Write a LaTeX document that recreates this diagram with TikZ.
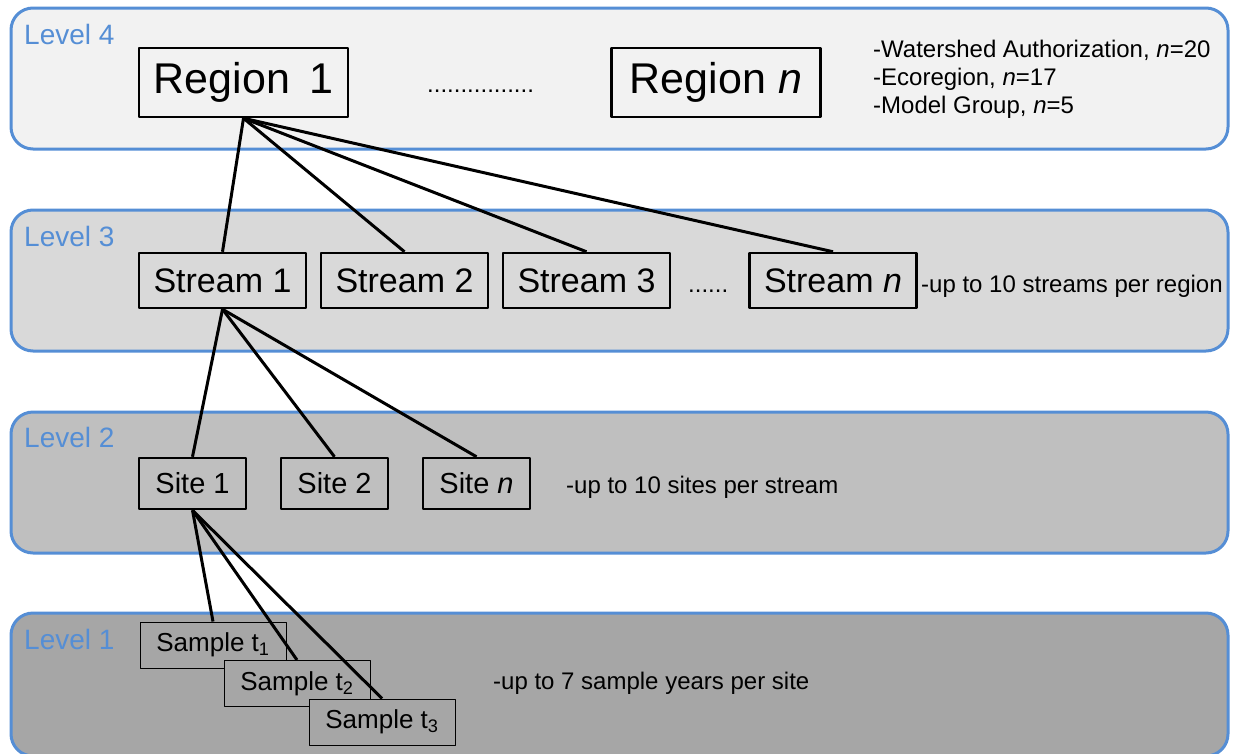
\documentclass[tikz,border=0pt]{standalone}
\usepackage{fontspec}
\setmainfont{Liberation Sans}
\usetikzlibrary{positioning}
\definecolor{lvlblue}{RGB}{85,142,213}
\definecolor{lvfour}{RGB}{242,242,242}
\definecolor{lvthree}{RGB}{217,217,217}
\definecolor{lvtwo}{RGB}{191,191,191}
\definecolor{lvone}{RGB}{166,166,166}

\begin{document}
\begin{tikzpicture}[x=1pt, y=-1pt, line join=round]
\tikzset{
  lvl/.style={draw=lvlblue, line width=3pt, rounded corners=22pt},
  lbl/.style={anchor=base west, inner sep=0pt, text=lvlblue, font=\fontsize{28}{32}\selectfont},
  note/.style={anchor=base west, inner sep=0pt, align=left, font=\fontsize{24}{28}\selectfont},
  box/.style={draw, line width=2.5pt, inner sep=0pt},
  region/.style={box, minimum width=209pt, minimum height=69pt, font=\fontsize{43}{48}\selectfont},
  strm/.style={box, minimum width=167pt, minimum height=55pt, font=\fontsize{34}{40}\selectfont},
  site/.style={box, minimum width=107pt, minimum height=51pt, font=\fontsize{29}{34}\selectfont},
  smp/.style={draw, line width=1pt, fill=lvone, inner sep=0pt, minimum width=146pt, minimum height=46pt, font=\fontsize{26}{30}\selectfont},
  link/.style={line width=3pt}
}
\clip (0,0) rectangle (1235,753);
% level bands
\draw[lvl, fill=lvfour] (11,8) rectangle (1228,149);
\draw[lvl, fill=lvthree] (11,210) rectangle (1228,351);
\draw[lvl, fill=lvtwo] (11,412) rectangle (1228,553);
\draw[lvl, fill=lvone] (11,613) rectangle (1228,756);
\node[lbl] (l4) at (24,44) {Level 4};
\node[lbl] (l3) at (24,246) {Level 3};
\node[lbl] (l2) at (24,447) {Level 2};
\node[lbl] (l1) at (24,649) {Level 1};

% level 4
\node[region] (r1) at (243.5,82.5) {Region\hspace{.45em}1};
\node[note] (rdots) at (427,92) {................};
\node[region] (rn) at (716,82.5) {Region \textit{n}};
\node[note] (rtxt) at (873,113) {-Watershed Authorization, \textit{n}=20\\-Ecoregion, \textit{n}=17\\-Model Group, \textit{n}=5};

% level 3
\node[strm] (s1) at (222.5,280.5) {Stream 1};
\node[strm, right=12.5pt of s1] (s2) {Stream 2};
\node[strm, right=12.5pt of s2] (s3) {Stream 3};
\node[note] (sdots) at (688,292) {......};
\node[strm] (sn) at (833,280.5) {Stream \textit{n}};
\node[note] (stxt) at (921,292) {-up to 10 streams per region};

% level 2
\node[site] (t1) at (192.5,483.5) {Site 1};
\node[site, right=32.5pt of t1] (t2) {Site 2};
\node[site, right=32.5pt of t2] (tn) {Site \textit{n}};
\node[note] (ttxt) at (566,493) {-up to 10 sites per stream};

% level 1
\node[smp] (p1) at (213,645) {Sample t\textsubscript{1}};
\node[smp] (p2) at (297,683.5) {Sample t\textsubscript{2}};
\node[smp] (p3) at (382,722) {Sample t\textsubscript{3}};
\node[note] (ptxt) at (493,689) {-up to 7 sample years per site};

% links
\foreach \s in {s1,s2,s3,sn}
  \draw[link] (r1.south) -- (\s.north);
\foreach \t in {t1,t2,tn}
  \draw[link] (s1.south) -- (\t.north);
\foreach \p in {p1,p2,p3}
  \draw[link] (t1.south) -- (\p.north);
\end{tikzpicture}
\end{document}
